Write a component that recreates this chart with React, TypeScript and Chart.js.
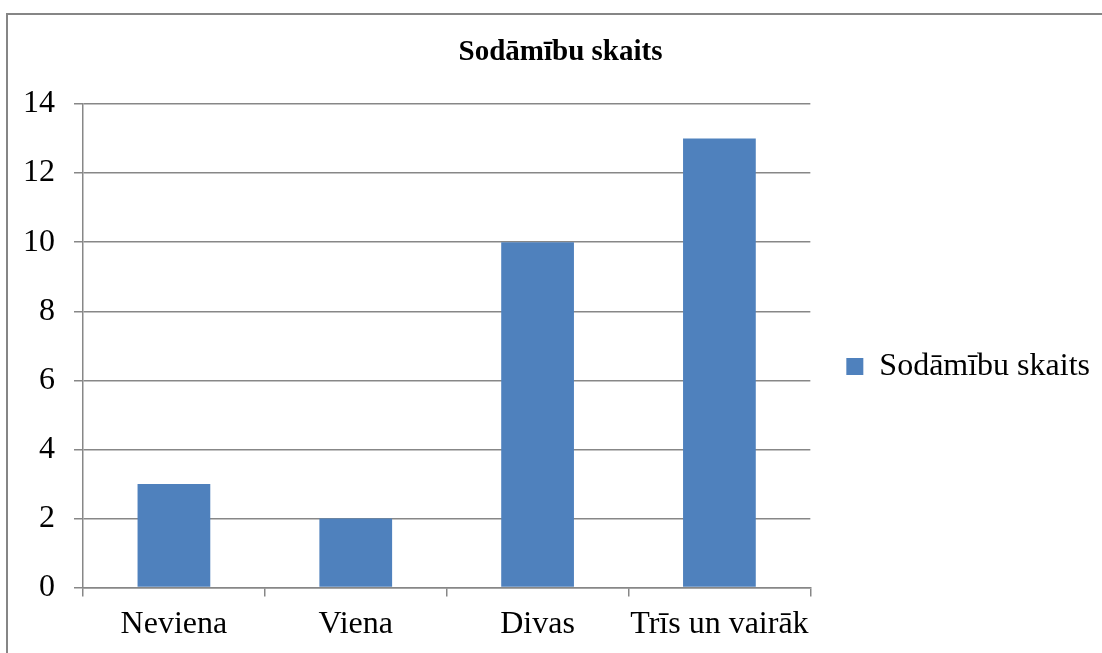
import React, { useEffect, useRef } from "react";
import { Chart, registerables } from "chart.js";

Chart.register(...registerables);

const categories = ["Neviena", "Viena", "Divas", "Trīs un vairāk"];
const seriesName = "Sodāmību skaits";
const values = [3, 2, 10, 13];
const chartTitle = "Sodāmību skaits";
const yMin = 0;
const yMax = 14;
const yStep = 2;

const FONT = "'Liberation Serif', 'Times New Roman', serif";
const GRID = "#878787";

export default function App() {
  const ref = useRef<HTMLCanvasElement | null>(null);

  useEffect(() => {
    if (!ref.current) return;
    const chart = new Chart(ref.current, {
      type: "bar",
      data: {
        labels: categories,
        datasets: [
          {
            label: seriesName,
            data: values,
            backgroundColor: "#4F81BD",
            borderWidth: 0,
            barPercentage: 0.4,
            categoryPercentage: 1,
          },
        ],
      },
      options: {
        animation: false,
        responsive: false,
        maintainAspectRatio: false,
        layout: { padding: { left: 21, right: 2, top: 14, bottom: 0 } },
        plugins: {
          title: {
            display: true,
            text: chartTitle,
            color: "#000",
            font: { family: FONT, size: 29, weight: "bold" },
            padding: { top: 21.6, bottom: 33.6 },
          },
          legend: {
            display: true,
            position: "right",
            fullSize: false,
            align: "center",
            maxWidth: 400,
            title: {
              display: true,
              text: "",
              font: { size: 1 },
              padding: { top: 0, bottom: 40 },
            },
            labels: {
              color: "#000",
              font: { family: FONT, size: 32 },
              boxWidth: 17,
              boxHeight: 17,
              padding: 36,
            },
          },
          tooltip: { enabled: false },
        },
        scales: {
          x: {
            afterFit: (scale: any) => {
              scale.paddingLeft = 0;
              scale.paddingRight = 0;
            },
            grid: {
              display: true,
              offset: true,
              drawOnChartArea: false,
              drawTicks: true,
              tickLength: 9,
              color: GRID,
              lineWidth: 1.5,
            },
            border: { display: true, color: GRID, width: 1.5 },
            ticks: {
              color: "#000",
              font: { family: FONT, size: 32 },
              padding: 9,
              maxRotation: 0,
              autoSkip: false,
            },
          },
          y: {
            min: yMin,
            max: yMax,
            afterFit: (scale: any) => {
              scale.width = 62;
            },
            grid: {
              display: true,
              drawTicks: true,
              tickLength: 9,
              color: GRID,
              lineWidth: 1.5,
            },
            border: { display: true, color: GRID, width: 1.5 },
            ticks: {
              stepSize: yStep,
              color: "#000",
              font: { family: FONT, size: 32 },
              padding: 19,
            },
          },
        },
      },
    });
    return () => chart.destroy();
  }, []);

  return (
    <div
      style={{
        position: "fixed",
        left: 0,
        top: 0,
        width: 1102,
        height: 653,
        overflow: "hidden",
        background: "#fff",
      }}
    >
      <div
        style={{
          position: "absolute",
          left: 6,
          top: 13,
          width: 1200,
          height: 800,
          borderLeft: "2px solid #868686",
          borderTop: "2px solid #868686",
        }}
      />
      <canvas
        ref={ref}
        width={1102}
        height={653}
        style={{ position: "absolute", left: 0, top: 0, width: 1102, height: 653 }}
      />
    </div>
  );
}
